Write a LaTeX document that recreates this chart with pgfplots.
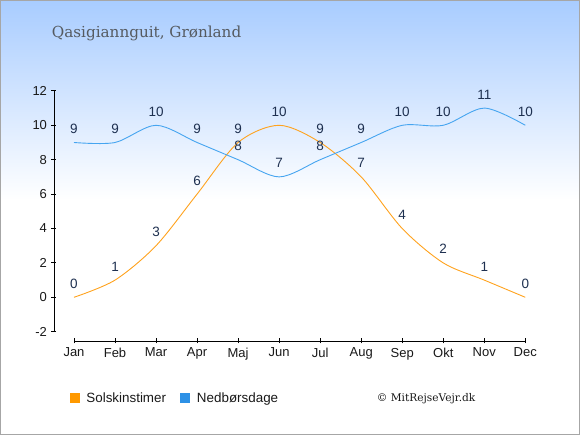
\documentclass[border=0pt]{standalone}
\usepackage{pgfplots}
\pgfplotsset{compat=1.18}
\usepackage{fontspec}
\setmainfont{Liberation Sans}
\newfontfamily\seriffont{DejaVu Serif}
\definecolor{bgtop}{RGB}{168,204,255}
\definecolor{sunc}{RGB}{255,163,30}
\definecolor{rainc}{RGB}{70,165,240}
\definecolor{sunleg}{RGB}{255,153,0}
\definecolor{rainleg}{RGB}{45,145,230}
\definecolor{lblc}{RGB}{30,48,80}
\definecolor{titlec}{RGB}{85,90,96}
\begin{document}
\begin{tikzpicture}[x=1pt,y=1pt]
% background (origin = Jan,-2 point; px: x=74, y=331.7)
\shade[top color=bgtop,bottom color=white] (-74,331.7) rectangle (506,131.7);
\fill[white] (-74,131.7) rectangle (506,-103.3);
\draw[gray!70,line width=1pt] (-73.5,331.2) rectangle (505.5,-102.8);
\node[anchor=base west,font=\seriffont\fontsize{15.2}{18}\selectfont,text=titlec,inner sep=0pt] at (-22.3,294.2) {Qasigiannguit, Grønland};
\node[anchor=base west,font=\seriffont\fontsize{10.6}{13}\selectfont,text=black!90,inner sep=0pt] at (302.7,-70.3) {© MitRejseVejr.dk};
\begin{axis}[
  at={(0,0)}, anchor=south west,
  scale only axis, width=451.3pt, height=240.8pt,
  xmin=0, xmax=11, ymin=-2, ymax=12,
  clip=false,
  axis x line=bottom, axis y line=left,
  axis line style={-, black, line width=0.8pt},
  axis x line shift=9.3pt,
  axis y line shift=20pt,
  xtick={0,...,11},
  xticklabels={Jan,Feb,Mar,Apr,Maj,Jun,Jul,Aug,Sep,Okt,Nov,Dec},
  ytick={-2,0,...,12},
  tick align=center,
  major tick length=5pt,
  tick style={black, line width=0.8pt},
  ticklabel style={font=\fontsize{13}{15}\selectfont, text=black!90},
  /pgf/number format/assume math mode=true,
  xticklabel style={yshift=-1pt},
  yticklabel style={xshift=-1pt},
  nodes near coords,
  every node near coord/.append style={anchor=center, yshift=13.7pt, font=\fontsize{13.5}{15}\selectfont, text=lblc},
  legend columns=2,
  legend style={at={(-0.0104,-0.2753)}, anchor=west, draw=none, fill=none, inner sep=0pt,
    font=\fontsize{13.4}{15}\selectfont, text=black!90,
    /tikz/every odd column/.append style={column sep=5pt},
    /tikz/every even column/.append style={column sep=12pt}},
]
\addplot[color=sunc, line width=0.9pt, smooth, tension=0.5,
  legend image code/.code={\fill[sunleg] (0pt,-4.5pt) rectangle (9pt,4.5pt);}] coordinates {
 (0,0) (1,1) (2,3) (3,6) (4,9) (5,10) (6,9) (7,7) (8,4) (9,2) (10,1) (11,0)};
\addlegendentry{Solskinstimer}
\addplot[color=rainc, line width=0.9pt, smooth, tension=0.5,
  legend image code/.code={\fill[rainleg] (0pt,-4.5pt) rectangle (9pt,4.5pt);}] coordinates {
 (0,9) (1,9) (2,10) (3,9) (4,8) (5,7) (6,8) (7,9) (8,10) (9,10) (10,11) (11,10)};
\addlegendentry{Nedbørsdage}
\end{axis}
\end{tikzpicture}
\end{document}
